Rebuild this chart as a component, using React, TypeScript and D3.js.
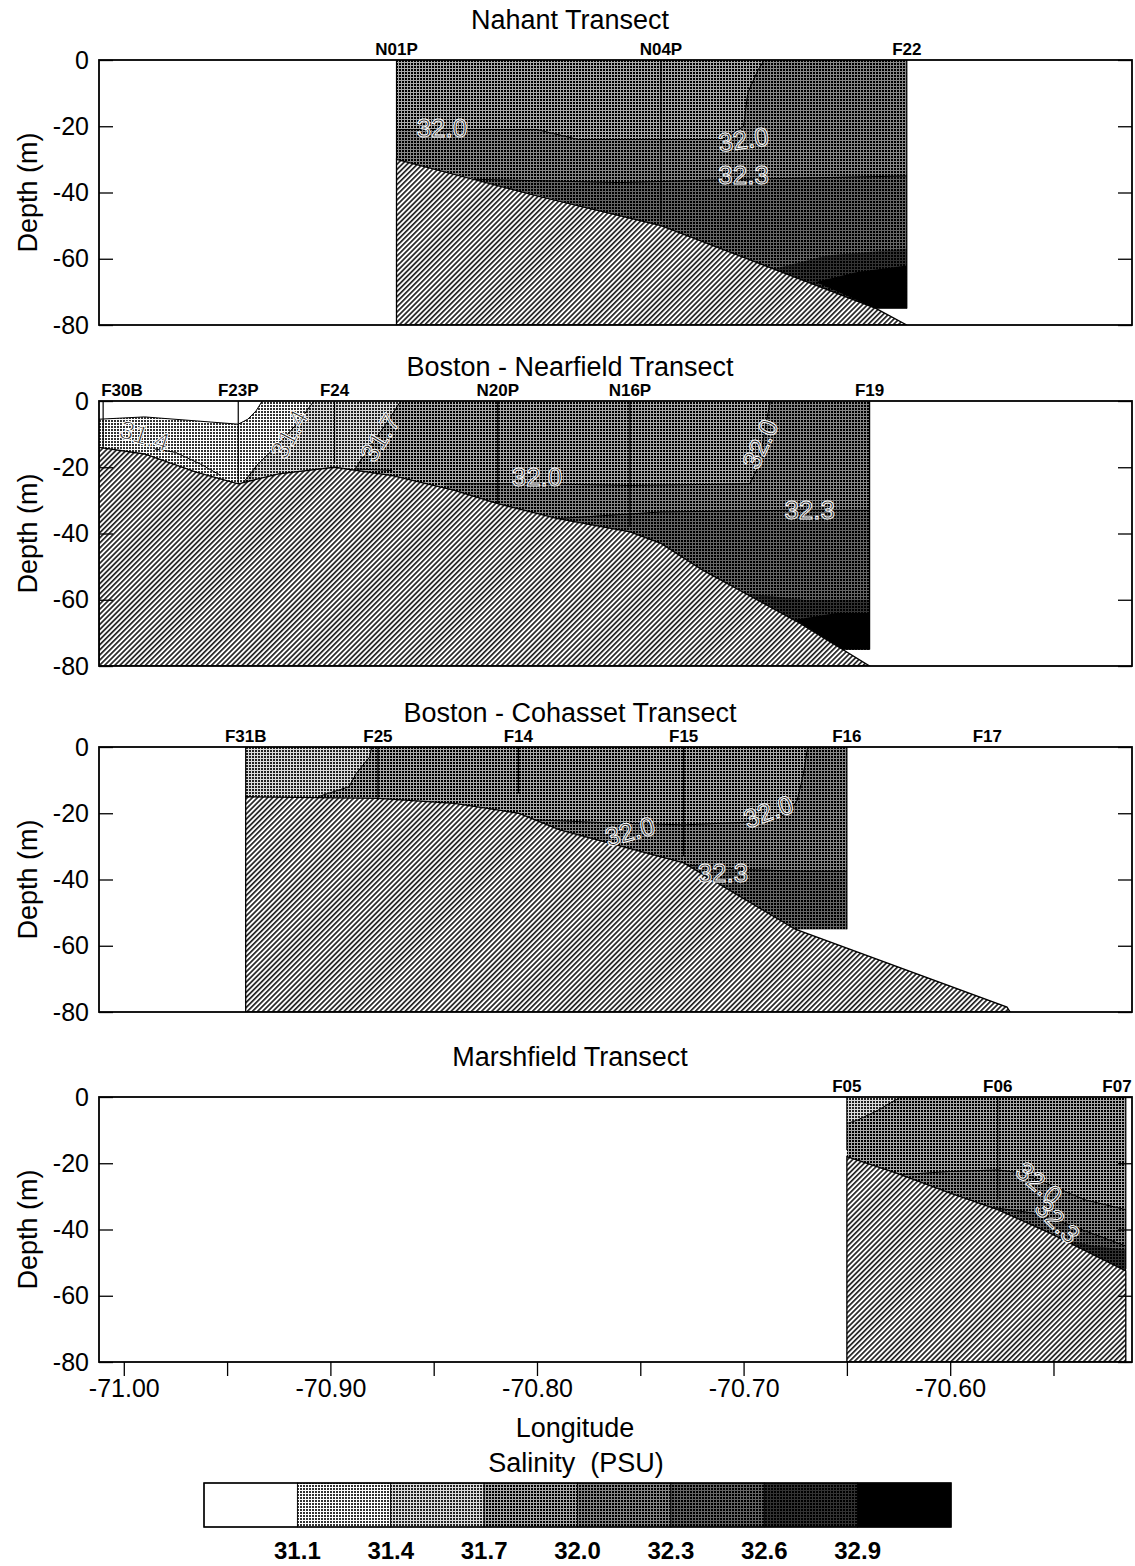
import * as d3 from "d3"
import { useRef, useEffect } from "react"

type Pt = [number, number]
type Zone = { cls: number; pts: Pt[] }
type CLabel = { text: string; lon: number; depth: number; angle: number }

const lonDomain = [-71.012, -70.512]
const depthDomain = [-80, 0]
const depthTicks = [0, -20, -40, -60, -80]
const lonTicks = [-71.0, -70.9, -70.8, -70.7, -70.6]
const lonMinorTicks = [-70.95, -70.85, -70.75, -70.65, -70.55]

const salinityBreaks = [31.1, 31.4, 31.7, 32.0, 32.3, 32.6, 32.9]
const salinityClasses = [0, 1, 2, 3, 4, 5, 6, 7]

// ---- Nahant
const nahantStations = ["N01P", "N04P", "F22"]
const nahantLon = [-70.868, -70.74, -70.621]
const nahantBottom = [-30, -48, -75]
const nahantBathy: Pt[] = [[-70.868, -30], [-70.8, -41], [-70.74, -50], [-70.7, -59.6], [-70.636, -75], [-70.621, -80], [-70.868, -80]]
const nahantZones: Zone[] = [
  { cls: 4, pts: [[-70.868, 0], [-70.621, 0], [-70.621, -75], [-70.636, -75], [-70.74, -50], [-70.868, -30]] },
  { cls: 3, pts: [[-70.868, 0], [-70.69, 0], [-70.693, -3], [-70.698, -10], [-70.7, -20], [-70.71, -24], [-70.78, -24], [-70.8, -21], [-70.868, -21]] },
  { cls: 5, pts: [[-70.831, -36], [-70.76, -37], [-70.7, -36], [-70.621, -35], [-70.621, -75], [-70.636, -75], [-70.74, -50]] },
  { cls: 6, pts: [[-70.685, -63], [-70.66, -59], [-70.621, -57], [-70.621, -75], [-70.636, -75]] },
  { cls: 7, pts: [[-70.665, -67], [-70.645, -64], [-70.621, -62], [-70.621, -75], [-70.636, -75]] },
]
const nahantContours: Pt[][] = [
  [[-70.868, -21], [-70.8, -21], [-70.78, -24], [-70.71, -24], [-70.7, -20], [-70.698, -10], [-70.693, -3], [-70.69, 0]],
  [[-70.831, -36], [-70.76, -37], [-70.7, -36], [-70.621, -35]],
]
const nahantLabels: CLabel[] = [
  { text: "32.0", lon: -70.846, depth: -20.5, angle: 0 },
  { text: "32.0", lon: -70.7, depth: -24, angle: -8 },
  { text: "32.3", lon: -70.7, depth: -34.7, angle: 0 },
]

// ---- Boston - Nearfield
const nearStations = ["F30B", "F23P", "F24", "N20P", "N16P", "F19"]
const nearLon = [-71.01, -70.9446, -70.898, -70.819, -70.755, -70.639]
const nearBottom = [-14, -25, -19, -31, -38, -75]
const nearBathy: Pt[] = [[-71.012, -14], [-70.99, -16], [-70.965, -21.5], [-70.9446, -25], [-70.925, -22], [-70.898, -20], [-70.87, -22.5], [-70.84, -27], [-70.819, -31], [-70.79, -35.5], [-70.755, -39.5], [-70.74, -43], [-70.72, -51], [-70.673, -67], [-70.639, -80], [-71.012, -80]]
const nearZones: Zone[] = [
  { cls: 3, pts: [[-71.012, 0], [-70.639, 0], [-70.639, -75], [-70.652, -75], [-70.652, -80], [-71.012, -80]] },
  { cls: 1, pts: [[-71.012, -5.5], [-70.99, -4.8], [-70.965, -6], [-70.9446, -7], [-70.94, -5.5], [-70.936, -3], [-70.933, 0], [-70.908, 0], [-70.915, -6], [-70.925, -13], [-70.935, -19], [-70.942, -24.5], [-70.9446, -26], [-71.012, -26]] },
  { cls: 0, pts: [[-71.012, 0], [-70.933, 0], [-70.936, -3], [-70.94, -5.5], [-70.9446, -7], [-70.965, -6], [-70.99, -4.8], [-71.012, -5.5]] },
  { cls: 2, pts: [[-70.908, 0], [-70.866, 0], [-70.872, -6], [-70.88, -13], [-70.888, -20], [-70.89, -24], [-70.94, -26], [-70.935, -19], [-70.925, -13], [-70.915, -6]] },
  { cls: 4, pts: [[-70.845, -25], [-70.8, -25], [-70.755, -25.5], [-70.697, -25], [-70.693, -20], [-70.69, -10], [-70.688, -3], [-70.687, 0], [-70.639, 0], [-70.639, -75], [-70.652, -75], [-70.652, -80], [-70.845, -80]] },
  { cls: 5, pts: [[-70.79, -35.5], [-70.74, -33.5], [-70.68, -33], [-70.639, -33], [-70.639, -75], [-70.652, -75], [-70.652, -80], [-70.79, -80]] },
  { cls: 6, pts: [[-70.7, -58], [-70.67, -60], [-70.639, -60], [-70.639, -75], [-70.652, -75]] },
  { cls: 7, pts: [[-70.675, -66], [-70.655, -64], [-70.639, -64], [-70.639, -75], [-70.652, -75]] },
]
const nearContours: Pt[][] = [
  [[-71.012, -5.5], [-70.99, -4.8], [-70.965, -6], [-70.9446, -7], [-70.94, -5.5], [-70.936, -3], [-70.933, 0]],
  [[-70.908, 0], [-70.915, -6], [-70.925, -13], [-70.935, -19], [-70.942, -24.5]],
  [[-70.985, -14.5], [-70.975, -15.5], [-70.963, -19], [-70.953, -22.5]],
  [[-70.866, 0], [-70.872, -6], [-70.88, -13], [-70.888, -20.5], [-70.87, -21]],
  [[-70.845, -25], [-70.8, -25], [-70.755, -25.5], [-70.697, -25], [-70.693, -20], [-70.69, -10], [-70.688, -3], [-70.687, 0]],
  [[-70.79, -35.5], [-70.74, -33.5], [-70.68, -33], [-70.639, -33]],
]
const nearLabels: CLabel[] = [
  { text: "31.4", lon: -70.99, depth: -10.5, angle: 18 },
  { text: "31.4", lon: -70.92, depth: -10, angle: -62 },
  { text: "31.7", lon: -70.876, depth: -11, angle: -58 },
  { text: "32.0", lon: -70.8, depth: -23, angle: 0 },
  { text: "32.0", lon: -70.692, depth: -13, angle: -65 },
  { text: "32.3", lon: -70.668, depth: -33, angle: 0 },
]

// ---- Boston - Cohasset
const cohStations = ["F31B", "F25", "F14", "F15", "F16", "F17"]
const cohLon = [-70.941, -70.877, -70.809, -70.729, -70.65, -70.582]
const cohBottom = [-15, -16, -14, -33, -55, NaN]
const cohBathy: Pt[] = [[-70.941, -15], [-70.877, -15.5], [-70.84, -17], [-70.809, -20], [-70.789, -25], [-70.729, -35], [-70.675, -55], [-70.5725, -78.5], [-70.571, -80], [-70.941, -80]]
const cohZones: Zone[] = [
  { cls: 3, pts: [[-70.941, 0], [-70.65, 0], [-70.65, -55], [-70.675, -55], [-70.675, -80], [-70.941, -80]] },
  { cls: 2, pts: [[-70.941, 0], [-70.88, 0], [-70.881, -3], [-70.8875, -8], [-70.891, -12], [-70.906, -15], [-70.941, -16]] },
  { cls: 4, pts: [[-70.801, -22], [-70.76, -23], [-70.729, -23.5], [-70.69, -22.5], [-70.678, -20], [-70.674, -16], [-70.671, -8], [-70.669, 0], [-70.65, 0], [-70.65, -55], [-70.675, -55], [-70.675, -80], [-70.801, -80]] },
  { cls: 5, pts: [[-70.73, -35.5], [-70.7, -37], [-70.67, -37.5], [-70.65, -37.5], [-70.65, -55], [-70.675, -55], [-70.675, -80], [-70.73, -80]] },
]
const cohContours: Pt[][] = [
  [[-70.88, 0], [-70.881, -3], [-70.8875, -8], [-70.891, -12], [-70.906, -15]],
  [[-70.801, -22], [-70.76, -23], [-70.729, -23.5], [-70.69, -22.5], [-70.678, -20], [-70.674, -16], [-70.671, -8], [-70.669, 0]],
  [[-70.73, -35.5], [-70.7, -37], [-70.67, -37.5], [-70.65, -37.5]],
]
const cohLabels: CLabel[] = [
  { text: "32.0", lon: -70.755, depth: -25.5, angle: -15 },
  { text: "32.0", lon: -70.688, depth: -19.5, angle: -20 },
  { text: "32.3", lon: -70.71, depth: -38, angle: 0 },
]

// ---- Marshfield
const marshStations = ["F05", "F06", "F07"]
const marshLon = [-70.65, -70.577, -70.515]
const marshBottom = [-16, -31, -52]
const marshBathy: Pt[] = [[-70.65, -18], [-70.626, -23], [-70.6, -29], [-70.577, -34], [-70.552, -41], [-70.515, -52.5], [-70.515, -80], [-70.65, -80]]
const marshZones: Zone[] = [
  { cls: 3, pts: [[-70.65, 0], [-70.515, 0], [-70.515, -80], [-70.65, -80]] },
  { cls: 2, pts: [[-70.65, 0], [-70.624, 0], [-70.635, -4], [-70.645, -7], [-70.65, -8]] },
  { cls: 4, pts: [[-70.626, -23.5], [-70.6, -22.5], [-70.577, -22], [-70.565, -23], [-70.55, -27], [-70.535, -31], [-70.515, -34], [-70.515, -80], [-70.626, -80]] },
  { cls: 5, pts: [[-70.58, -33.3], [-70.56, -35], [-70.545, -38], [-70.53, -41.5], [-70.515, -45], [-70.515, -80], [-70.58, -80]] },
  { cls: 6, pts: [[-70.545, -43], [-70.53, -45], [-70.515, -46], [-70.515, -80], [-70.545, -80]] },
]
const marshContours: Pt[][] = [
  [[-70.65, -8], [-70.645, -7], [-70.635, -4], [-70.624, 0]],
  [[-70.626, -23.5], [-70.6, -22.5], [-70.577, -22], [-70.565, -23], [-70.55, -27], [-70.535, -31], [-70.515, -34]],
  [[-70.58, -33.3], [-70.56, -35], [-70.545, -38], [-70.53, -41.5], [-70.515, -45]],
]
const marshLabels: CLabel[] = [
  { text: "32.0", lon: -70.557, depth: -26, angle: 40 },
  { text: "32.3", lon: -70.548, depth: -37.5, angle: 45 },
]

const panels = [
  { title: "Nahant Transect", stations: nahantStations, lon: nahantLon, bottom: nahantBottom, bathy: nahantBathy, zones: nahantZones, contours: nahantContours, labels: nahantLabels },
  { title: "Boston - Nearfield Transect", stations: nearStations, lon: nearLon, bottom: nearBottom, bathy: nearBathy, zones: nearZones, contours: nearContours, labels: nearLabels },
  { title: "Boston - Cohasset Transect", stations: cohStations, lon: cohLon, bottom: cohBottom, bathy: cohBathy, zones: cohZones, contours: cohContours, labels: cohLabels },
  { title: "Marshfield Transect", stations: marshStations, lon: marshLon, bottom: marshBottom, bathy: marshBathy, zones: marshZones, contours: marshContours, labels: marshLabels },
]

export default function App() {
  const ref = useRef<SVGSVGElement>(null)

  useEffect(() => {
    const width = 1135
    const height = 1566
    const left = 99
    const right = 1132
    const panelH = 265
    const panelTops = [60, 401, 747, 1097]
    const titleYs = [29, 376, 722, 1066]
    const font = "Arial, 'Liberation Sans', sans-serif"

    // halftone look: background with a 2x2 dot every 3px
    const shades = [["#fff", "#fff"], ["#fff", "#333"], ["#ddd", "#222"], ["#aaa", "#000"], ["#888", "#000"], ["#666", "#000"], ["#333", "#000"], ["#000", "#000"]]

    const svg = d3.select(ref.current)
    svg.selectAll("*").remove()
    svg.attr("width", width).attr("height", height).style("font-family", font)
    svg.append("rect").attr("width", width).attr("height", height).attr("fill", "#fff")

    const defs = svg.append("defs")
    shades.forEach(([a, b], i) => {
      const p = defs.append("pattern").attr("id", `sal${i}`)
        .attr("patternUnits", "userSpaceOnUse").attr("width", 3).attr("height", 3)
      p.append("rect").attr("width", 3).attr("height", 3).attr("fill", a)
      p.append("rect").attr("width", 2).attr("height", 2).attr("fill", b)
    })
    const hatch = defs.append("pattern").attr("id", "hatch")
      .attr("patternUnits", "userSpaceOnUse").attr("width", 3.6).attr("height", 10)
      .attr("patternTransform", "rotate(45)")
    hatch.append("rect").attr("width", 3.6).attr("height", 10).attr("fill", "#fff")
    hatch.append("rect").attr("width", 1.7).attr("height", 10).attr("fill", "#222")

    const x = d3.scaleLinear().domain(lonDomain).range([left, right])

    panels.forEach((p, i) => {
      const top = panelTops[i]
      const y = d3.scaleLinear().domain(depthDomain).range([top + panelH, top])
      const line = d3.line<Pt>().x(d => x(d[0])).y(d => y(d[1]))

      defs.append("clipPath").attr("id", `clip${i}`)
        .append("rect").attr("x", left).attr("y", top).attr("width", right - left).attr("height", panelH)

      const plot = svg.append("g").attr("clip-path", `url(#clip${i})`)

      plot.selectAll("path.zone").data(p.zones).join("path")
        .attr("class", "zone")
        .attr("d", d => line(d.pts) + "Z")
        .attr("fill", d => `url(#sal${d.cls})`)

      plot.selectAll("path.contour").data(p.contours).join("path")
        .attr("class", "contour")
        .attr("d", d => line(d))
        .attr("fill", "none").attr("stroke", "#000").attr("stroke-width", 1)

      plot.append("path").attr("d", line(p.bathy) + "Z")
        .attr("fill", "url(#hatch)").attr("stroke", "#000").attr("stroke-width", 1.3)

      const st = p.stations.map((s, k) => ({ name: s, lon: p.lon[k], bottom: p.bottom[k] }))

      plot.selectAll("line.station").data(st.filter(d => !isNaN(d.bottom))).join("line")
        .attr("class", "station")
        .attr("x1", d => x(d.lon)).attr("x2", d => x(d.lon))
        .attr("y1", y(0)).attr("y2", d => y(d.bottom))
        .attr("stroke", "#000").attr("stroke-width", 1.2)

      plot.selectAll("text.clabel").data(p.labels).join("text")
        .attr("class", "clabel")
        .attr("transform", d => `translate(${x(d.lon)},${y(d.depth)}) rotate(${d.angle})`)
        .attr("text-anchor", "middle").attr("dy", "0.35em")
        .attr("font-size", 26)
        .attr("fill", "#222").attr("stroke", "#fff").attr("stroke-width", 1)
        .text(d => d.text)

      svg.selectAll(`text.st${i}`).data(st).join("text")
        .attr("class", `st${i}`)
        .attr("x", d => Math.min(Math.max(x(d.lon), left + 23), width - 18))
        .attr("y", top - 5)
        .attr("text-anchor", "middle")
        .attr("font-size", 17).attr("font-weight", "bold")
        .text(d => d.name)

      svg.append("text").attr("x", 570).attr("y", titleYs[i])
        .attr("text-anchor", "middle").attr("font-size", 27)
        .text(p.title)

      svg.append("text")
        .attr("transform", `translate(37,${top + panelH / 2}) rotate(-90)`)
        .attr("text-anchor", "middle").attr("font-size", 27)
        .text("Depth (m)")

      const ya = svg.append("g").attr("transform", `translate(${left},0)`)
        .call(d3.axisLeft(y).tickValues(depthTicks).tickSize(-14).tickPadding(10).tickFormat(d => String(d)))
      ya.select(".domain").remove()
      ya.selectAll("text").attr("font-size", 25).attr("font-family", font).attr("fill", "#000")
      ya.selectAll("line").attr("stroke-width", 1.3)

      const yr = svg.append("g").attr("transform", `translate(${right},0)`)
        .call(d3.axisRight(y).tickValues(depthTicks).tickSize(-14).tickFormat(() => ""))
      yr.select(".domain").remove()
      yr.selectAll("line").attr("stroke-width", 1.3)

      svg.append("rect").attr("x", left).attr("y", top).attr("width", right - left).attr("height", panelH)
        .attr("fill", "none").attr("stroke", "#000").attr("stroke-width", 1.8)

      if (i === panels.length - 1) {
        const xa = svg.append("g").attr("transform", `translate(0,${top + panelH})`)
          .call(d3.axisBottom(x).tickValues(lonTicks).tickSize(14).tickPadding(3).tickFormat(d => (+d).toFixed(2)))
        xa.select(".domain").remove()
        xa.selectAll("text").attr("font-size", 25).attr("font-family", font).attr("fill", "#000")
        xa.selectAll("line").attr("stroke-width", 1.3)
        const xm = svg.append("g").attr("transform", `translate(0,${top + panelH})`)
          .call(d3.axisBottom(x).tickValues(lonMinorTicks).tickSize(14).tickFormat(() => ""))
        xm.select(".domain").remove()
        xm.selectAll("line").attr("stroke-width", 1.3)
      }
    })

    svg.append("text").attr("x", 575).attr("y", 1437).attr("text-anchor", "middle")
      .attr("font-size", 27).text("Longitude")
    svg.append("text").attr("x", 576).attr("y", 1472).attr("text-anchor", "middle")
      .attr("font-size", 27).style("white-space", "pre").text("Salinity  (PSU)")

    // legend bar
    const lx = d3.scaleBand<number>().domain(salinityClasses).range([204, 951])
    const lg = svg.append("g")
    lg.selectAll("rect.box").data(salinityClasses).join("rect")
      .attr("class", "box")
      .attr("x", d => lx(d)!).attr("y", 1483)
      .attr("width", lx.bandwidth()).attr("height", 44)
      .attr("fill", d => `url(#sal${d})`)
      .attr("stroke", "#000").attr("stroke-width", 0.8)
    lg.append("rect").attr("x", 204).attr("y", 1483).attr("width", 951 - 204).attr("height", 44)
      .attr("fill", "none").attr("stroke", "#000").attr("stroke-width", 1.5)
    lg.selectAll("text").data(salinityBreaks).join("text")
      .attr("x", (d, k) => lx(salinityClasses[k + 1])!)
      .attr("y", 1559).attr("text-anchor", "middle")
      .attr("font-size", 24).attr("font-weight", "bold")
      .text(d => d.toFixed(1))
  }, [])

  return (
    <div style={{ position: "absolute", left: 0, top: 0 }}>
      <svg ref={ref}></svg>
    </div>
  )
}
